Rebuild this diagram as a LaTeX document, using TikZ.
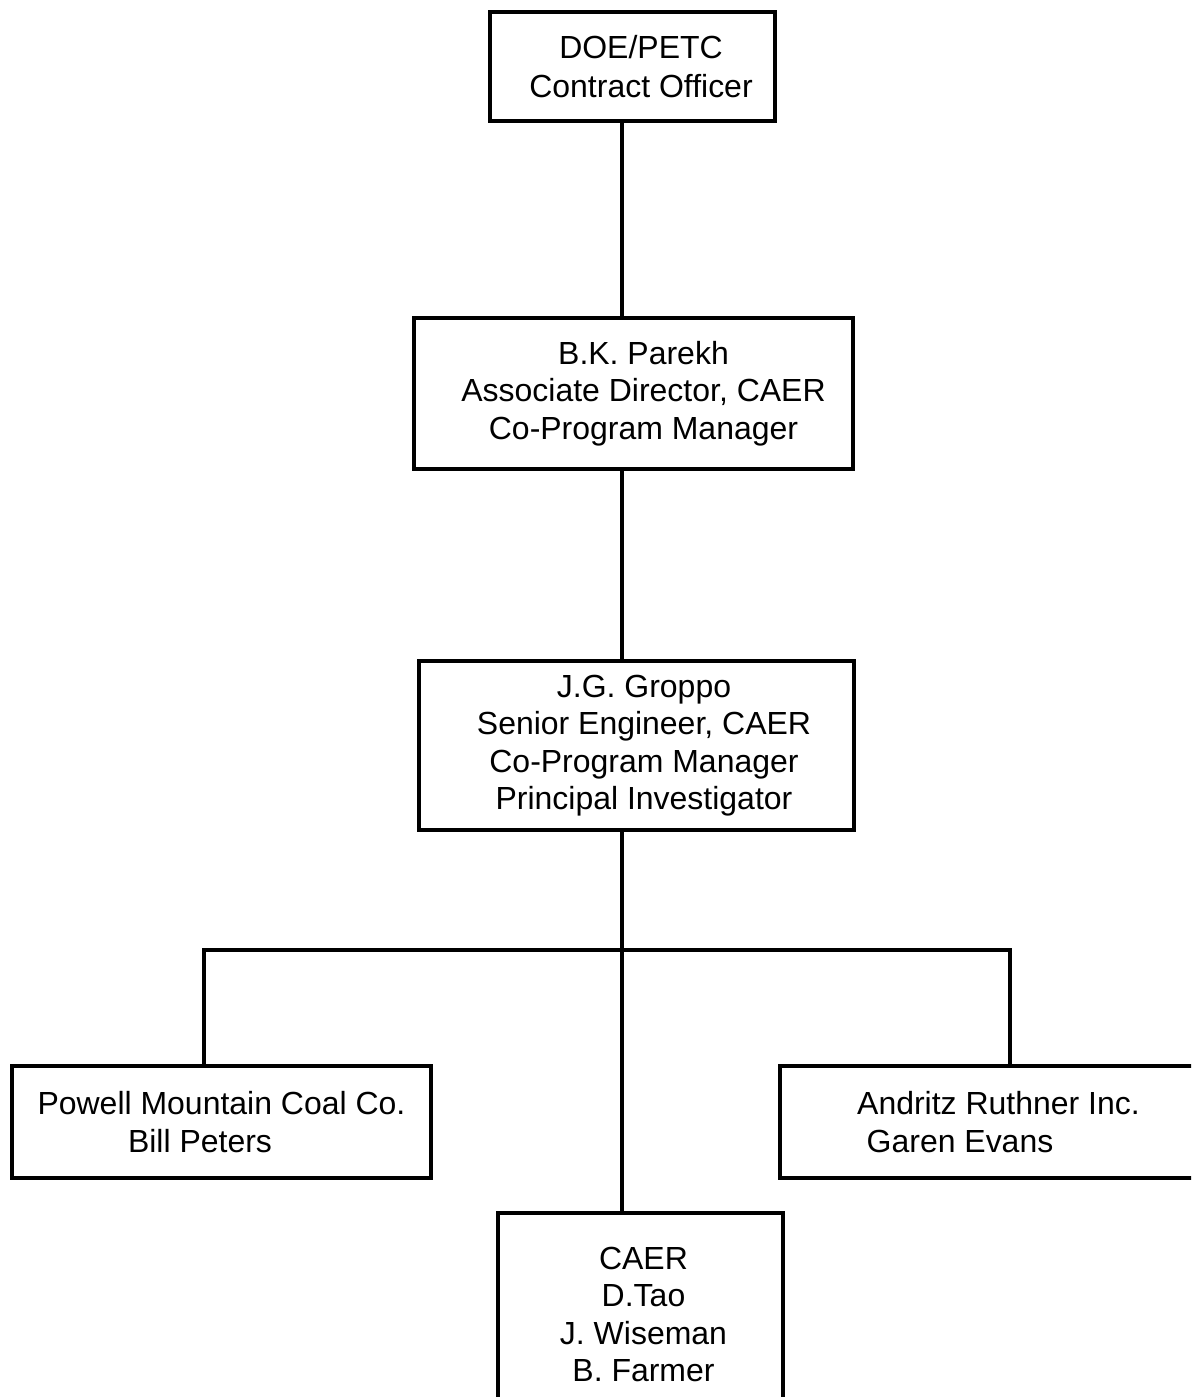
\documentclass[tikz,border=0pt]{standalone}
\usepackage{fontspec}
\setmainfont{Liberation Sans}
\tikzset{
    block/.style = {draw, rectangle, line width=0.08cm,
        inner sep=0pt, align=center,
        font=\fontsize{18.2}{21.3}\selectfont},
    link/.style = {draw, -, line width=0.08cm}
}

\begin{document}
\begin{tikzpicture}[x=0.02cm, y=-0.02cm]
    \useasboundingbox (0,0) rectangle (1191,1397);
    \clip (0,0) rectangle (1191,1397);
    % chain of command
    \node [block, font=\fontsize{18.2}{22.4}\selectfont, minimum width=5.7cm, minimum height=2.18cm] (doe) at (632.5,66.5)
        {\hspace*{0.34cm}DOE/PETC\\\hspace*{0.34cm}Contract Officer};
    \node [block, minimum width=8.78cm, minimum height=3.02cm] (parekh) at (633.5,393.5)
        {\hspace*{0.4cm}B.K. Parekh\\\hspace*{0.4cm}Associate Director, CAER\\\hspace*{0.4cm}Co-Program Manager};
    \node [block, minimum width=8.7cm, minimum height=3.38cm] (groppo) at (636.5,745.5)
        {\hspace*{0.3cm}J.G. Groppo\\\hspace*{0.3cm}Senior Engineer, CAER\\\hspace*{0.3cm}Co-Program Manager\\\hspace*{0.3cm}Principal Investigator};
    % subcontractors
    \node [block, minimum width=8.38cm, minimum height=2.24cm] (powell) at (221.5,1122)
        {Powell Mountain Coal Co.\\Bill Peters\hspace*{0.86cm}\mbox{}};
    \node [block, align=left, minimum width=8.74cm, minimum height=2.24cm] (andritz) at (998.5,1122)
        {Andritz Ruthner Inc.\\\hspace*{0.19cm}Garen Evans};
    \node [block, minimum width=5.7cm, minimum height=4.06cm] (caer) at (640.5,1314.5)
        {\hspace*{0.12cm}CAER\\\hspace*{0.12cm}D.Tao\\\hspace*{0.12cm}J. Wiseman\\\hspace*{0.12cm}B. Farmer};
    \coordinate (spine) at (622,0);
    \coordinate (barL) at (204,950);
    \coordinate (barR) at (1010,950);
    \draw [link] (doe.south -| spine) -- (parekh.north -| spine);
    \draw [link] (parekh.south -| spine) -- (groppo.north -| spine);
    \draw [link] (groppo.south -| spine) -- (caer.north -| spine);
    \draw [link] (powell.north -| barL) -- (barL) -- (barR) -- (andritz.north -| barR);
\end{tikzpicture}
\end{document}
